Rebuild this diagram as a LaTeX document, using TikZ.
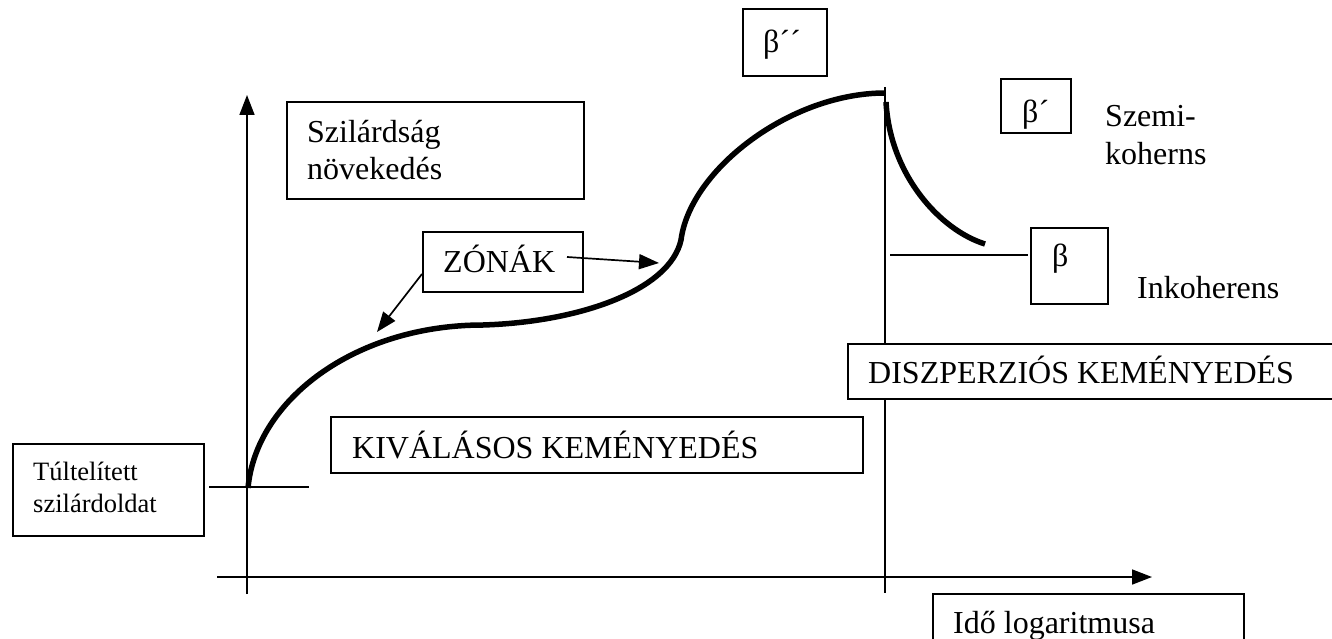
\documentclass[tikz,border=0pt]{standalone}
\usepackage{fontspec}
\setmainfont{Liberation Serif}
\usetikzlibrary{arrows.meta}
\begin{document}
\begin{tikzpicture}[x=1pt,y=-1pt,
  thinline/.style={line width=1.7pt},
  box/.style={draw,line width=1.7pt,fill=white,inner sep=0pt,anchor=north west},
  txt/.style={inner sep=0pt,anchor=base west,font=\fontsize{32}{38}\selectfont},
  smalltxt/.style={inner sep=0pt,anchor=base west,font=\fontsize{26.5}{32}\selectfont},
  curveline/.style={line width=5.5pt},
  arr/.style={-{Triangle[length=20pt,width=15pt]}},
  zarr/.style={thinline,-{Triangle[length=20pt,width=15pt]}}]
\clip (0,0) rectangle (1332,639);
\useasboundingbox (0,0) rectangle (1332,639);

% axes
\coordinate (yb) at (247,594);
\coordinate (yt) at (247,95);
\coordinate (xl) at (217,577);
\coordinate (xr) at (1152,577);
\draw[thinline,arr] (yb) -- (yt);
\draw[thinline,arr] (xl) -- (xr);

% vertical divider
\coordinate (vt) at (885,87);
\coordinate (vb) at (885,593);
\draw[thinline] (vt) -- (vb);

% start tick
\coordinate (tl) at (209,487);
\coordinate (tr) at (309,487);
\draw[thinline] (tl) -- (tr);

% beta line
\coordinate (bl) at (890,255);
\coordinate (br) at (1028,255);
\draw[thinline] (bl) -- (br);

% boxes
\node[box,minimum width=297pt,minimum height=97pt] (szil) at (286,101) {};
\node[box,minimum width=160pt,minimum height=60pt] (zonak) at (422,231) {};
\node[box,minimum width=532pt,minimum height=56pt] (kiv) at (330,416) {};
\node[box,minimum width=500pt,minimum height=55pt] (disz) at (847,343) {};
\node[box,minimum width=311pt,minimum height=70pt] (ido) at (932,593) {};
\node[box,minimum width=191pt,minimum height=92pt] (tul) at (12,443) {};
\node[box,minimum width=84pt,minimum height=67pt] (b2) at (742,8) {};
\node[box,minimum width=70pt,minimum height=54pt] (b1) at (1000,78) {};
\node[box,minimum width=77pt,minimum height=76pt] (b0) at (1030,227) {};

% texts
\node[txt] (t1) at (307,143) {Szilárdság};
\node[txt] (t2) at (307,180) {növekedés};
\node[txt] (t3) at (443,272) {ZÓNÁK};
\node[txt] (t4) at (352,458) {KIVÁLÁSOS KEMÉNYEDÉS};
\node[txt] (t5) at (868,383) {DISZPERZIÓS KEMÉNYEDÉS};
\node[txt] (t6) at (953,633) {Idő logaritmusa};
\node[smalltxt] (t7) at (33,480) {Túltelített};
\node[smalltxt] (t8) at (33,512) {szilárdoldat};
\node[txt] (t9) at (1105,127) {Szemi-};
\node[txt] (t10) at (1105,165) {koherns};
\node[txt] (t11) at (1137,298) {Inkoherens};
\node[txt] (t12) at (763,53) {β´´};
\node[txt] (t13) at (1022,123) {β´};
\node[txt] (t14) at (1052,266) {β};

% main curve
\coordinate (c0) at (248,488);
\coordinate (c1) at (483,325);
\coordinate (c2) at (681,240);
\coordinate (c3) at (885,93);
\draw[curveline] (c0) .. controls (256,400) and (355,325) .. (c1)
  .. controls (580,322) and (670,290) .. (c2)
  .. controls (690,170) and (790,93) .. (c3);

% descending curve
\coordinate (d0) at (886,102);
\coordinate (d1) at (985,244);
\draw[curveline] (d0) .. controls (890,175) and (940,230) .. (d1);

% arrows from ZONAK
\coordinate (z1) at (567,257);
\coordinate (z1t) at (659,263);
\coordinate (z2) at (422,274);
\coordinate (z2t) at (377,332);
\draw[zarr] (z1) -- (z1t);
\draw[zarr] (z2) -- (z2t);
\end{tikzpicture}
\end{document}
